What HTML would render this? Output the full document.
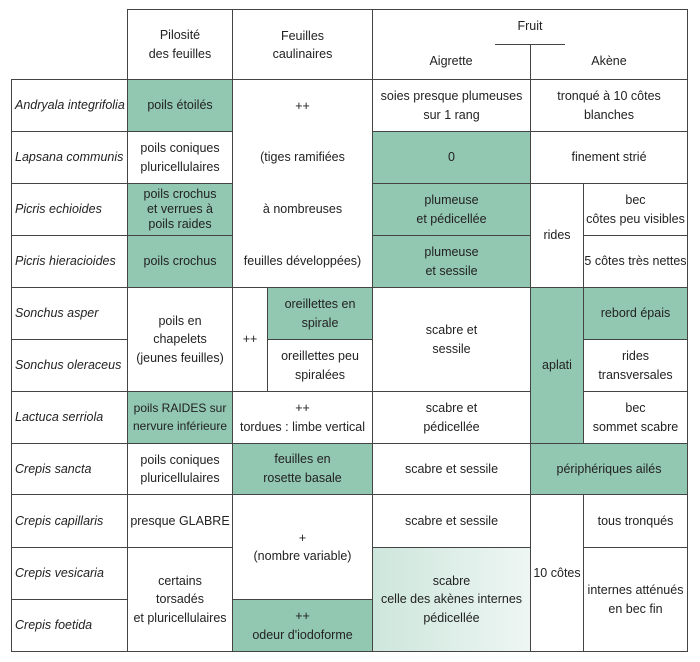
<!DOCTYPE html>
<html><head><meta charset="utf-8"><style>
body{margin:0;width:700px;height:662px;background:#fff;position:relative;overflow:hidden;font-family:"Liberation Sans",sans-serif;font-size:12.5px;color:#222}
.c{position:absolute;box-sizing:border-box;border:1px solid #444;display:flex;align-items:center;justify-content:center;text-align:center;line-height:1.45}
.g{background:#92c7b1}
.n{justify-content:flex-start;padding-left:3px;font-style:italic}
.h{position:absolute;text-align:center;line-height:1.45}
</style></head><body>
<div class="c" style="left:127px;top:9px;width:106px;height:71px">Pilosité<br>des feuilles</div>
<div class="c" style="left:232px;top:9px;width:141px;height:71px;align-items:flex-start;padding-top:17px">Feuilles<br>caulinaires</div>
<div class="c" style="left:372px;top:9px;width:316px;height:71px"></div>
<div class="h" style="left:372px;width:316px;top:17px">Fruit</div>
<div style="position:absolute;left:495px;top:44px;width:70px;height:1px;background:#444"></div>
<div style="position:absolute;left:530px;top:44px;width:1px;height:36px;background:#444"></div>
<div class="h" style="left:372px;width:158px;top:52px">Aigrette</div>
<div class="h" style="left:530px;width:158px;top:52px">Akène</div>
<div class="c n" style="left:11px;top:79px;width:117px;height:53px">Andryala integrifolia</div>
<div class="c n" style="left:11px;top:131px;width:117px;height:53px">Lapsana communis</div>
<div class="c n" style="left:11px;top:183px;width:117px;height:53px">Picris echioides</div>
<div class="c n" style="left:11px;top:235px;width:117px;height:53px">Picris hieracioides</div>
<div class="c n" style="left:11px;top:287px;width:117px;height:53px">Sonchus asper</div>
<div class="c n" style="left:11px;top:339px;width:117px;height:53px">Sonchus oleraceus</div>
<div class="c n" style="left:11px;top:391px;width:117px;height:53px">Lactuca serriola</div>
<div class="c n" style="left:11px;top:443px;width:117px;height:52px">Crepis sancta</div>
<div class="c n" style="left:11px;top:494px;width:117px;height:54px">Crepis capillaris</div>
<div class="c n" style="left:11px;top:547px;width:117px;height:53px">Crepis vesicaria</div>
<div class="c n" style="left:11px;top:599px;width:117px;height:53px">Crepis foetida</div>
<div class="c g" style="left:127px;top:79px;width:106px;height:53px">poils étoilés</div>
<div class="c" style="left:127px;top:131px;width:106px;height:53px">poils coniques<br>pluricellulaires</div>
<div class="c g" style="left:127px;top:183px;width:106px;height:53px;line-height:1.2">poils crochus<br>et verrues à<br>poils raides</div>
<div class="c g" style="left:127px;top:235px;width:106px;height:53px">poils crochus</div>
<div class="c" style="left:127px;top:287px;width:106px;height:105px;line-height:1.45">poils en<br>chapelets<br>(jeunes feuilles)</div>
<div class="c g" style="left:127px;top:391px;width:106px;height:53px;font-size:12px">poils RAIDES sur<br>nervure inférieure</div>
<div class="c" style="left:127px;top:443px;width:106px;height:52px">poils coniques<br>pluricellulaires</div>
<div class="c" style="left:127px;top:494px;width:106px;height:54px">presque GLABRE</div>
<div class="c" style="left:127px;top:547px;width:106px;height:105px">certains<br>torsadés<br>et pluricellulaires</div>
<div class="c" style="left:232px;top:79px;width:141px;height:209px"></div>
<div class="h" style="left:232px;width:141px;top:97px">++</div>
<div class="h" style="left:232px;width:141px;top:148px">(tiges ramifiées</div>
<div class="h" style="left:232px;width:141px;top:200px">à nombreuses</div>
<div class="h" style="left:232px;width:141px;top:252px">feuilles développées)</div>
<div class="c" style="left:232px;top:287px;width:36px;height:105px">++</div>
<div class="c g" style="left:267px;top:287px;width:106px;height:53px">oreillettes en<br>spirale</div>
<div class="c" style="left:267px;top:339px;width:106px;height:53px">oreillettes peu<br>spiralées</div>
<div class="c" style="left:232px;top:391px;width:141px;height:53px">++<br>tordues : limbe vertical</div>
<div class="c g" style="left:232px;top:443px;width:141px;height:52px;line-height:1.5">feuilles en<br>rosette basale</div>
<div class="c" style="left:232px;top:494px;width:141px;height:106px">+<br>(nombre variable)</div>
<div class="c g" style="left:232px;top:599px;width:141px;height:53px">++<br>odeur d'iodoforme</div>
<div class="c" style="left:372px;top:79px;width:159px;height:53px">soies presque plumeuses<br>sur 1 rang</div>
<div class="c g" style="left:372px;top:131px;width:159px;height:53px">0</div>
<div class="c g" style="left:372px;top:183px;width:159px;height:53px">plumeuse<br>et pédicellée</div>
<div class="c g" style="left:372px;top:235px;width:159px;height:53px">plumeuse<br>et sessile</div>
<div class="c" style="left:372px;top:287px;width:159px;height:105px">scabre et<br>sessile</div>
<div class="c" style="left:372px;top:391px;width:159px;height:53px">scabre et<br>pédicellée</div>
<div class="c" style="left:372px;top:443px;width:159px;height:52px">scabre et sessile</div>
<div class="c" style="left:372px;top:494px;width:159px;height:54px">scabre et sessile</div>
<div class="c" style="left:372px;top:547px;width:159px;height:105px;background:linear-gradient(90deg,#cde6dc,#eef6f3)">scabre<br>celle des akènes internes<br>pédicellée</div>
<div class="c" style="left:530px;top:79px;width:158px;height:53px">tronqué à 10 côtes<br>blanches</div>
<div class="c" style="left:530px;top:131px;width:158px;height:53px">finement strié</div>
<div class="c" style="left:530px;top:183px;width:54px;height:105px">rides</div>
<div class="c" style="left:583px;top:183px;width:105px;height:53px">bec<br>côtes peu visibles</div>
<div class="c" style="left:583px;top:235px;width:105px;height:53px">5 côtes très nettes</div>
<div class="c g" style="left:530px;top:287px;width:54px;height:157px">aplati</div>
<div class="c g" style="left:583px;top:287px;width:105px;height:53px">rebord épais</div>
<div class="c" style="left:583px;top:339px;width:105px;height:53px">rides<br>transversales</div>
<div class="c" style="left:583px;top:391px;width:105px;height:53px">bec<br>sommet scabre</div>
<div class="c g" style="left:530px;top:443px;width:158px;height:52px">périphériques ailés</div>
<div class="c" style="left:530px;top:494px;width:54px;height:158px">10 côtes</div>
<div class="c" style="left:583px;top:494px;width:105px;height:54px">tous tronqués</div>
<div class="c" style="left:583px;top:547px;width:105px;height:105px">internes atténués<br>en bec fin</div>
</body></html>
